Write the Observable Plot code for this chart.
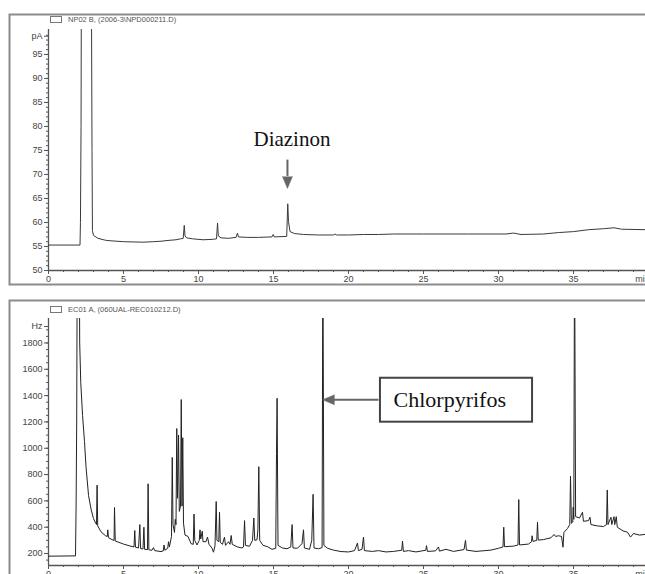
<!DOCTYPE html>
<html>
<head>
<meta charset="utf-8">
<script src="https://cdn.jsdelivr.net/npm/d3@7"></script>
<script src="https://cdn.jsdelivr.net/npm/@observablehq/plot@0.6"></script>
<style>
  html, body { margin: 0; padding: 0; background: #fff; }
  #wrap { position: relative; width: 645px; height: 574px; overflow: hidden; background: #fff; font-family: "Liberation Sans", Arial, sans-serif; }
  .panel { position: absolute; left: 0; }
  .hdr { position: absolute; font-size: 7.5px; color: #555; white-space: nowrap; }
  .icon { position: absolute; width: 10px; height: 5px; border: 1px solid #777; }
</style>
</head>
<body>
<div id="wrap">
  <div class="panel" id="top" style="top:0"></div>
  <div class="panel" id="bottom" style="top:290px"></div>
  <div class="icon" style="left:50px;top:16px"></div>
  <div class="hdr" id="hdrTop" style="left:68px;top:15px"></div>
  <div class="icon" style="left:50px;top:306px"></div>
  <div class="hdr" id="hdrBottom" style="left:68px;top:305px"></div>
</div>
<script>
// ---------- data ----------
const npdTitle = "NP02 B, (2006-3\\NPD000211.D)";
const ecdTitle = "EC01 A, (060UAL-REC010212.D)";

// NPD trace (time in min, signal in pA)
const npdTrace = [
  [0,55.3],[2.1,55.3],[2.13,60],[2.17,80],[2.2,120],[2.85,120],[2.9,75],[2.93,58.3],[3.0,57.3],
  [3.3,56.7],[3.8,56.3],[4.1,56.2],[5,56.0],[6.3,55.9],[7,56.0],[7.5,56.1],[8.1,56.3],[8.5,56.4],
  [8.8,56.6],[8.98,56.7],[9.05,59.4],[9.1,57.2],[9.2,56.8],[9.6,56.6],[10.3,56.4],[11.0,56.5],
  [11.2,56.6],[11.27,59.9],[11.32,57.2],[11.5,56.8],[12.0,56.7],[12.5,56.9],[12.6,57.8],[12.66,57.0],
  [13.2,56.9],[14.0,56.9],[14.9,57.0],[14.98,57.5],[15.05,57.0],[15.88,57.1],[15.95,63.9],[16.0,60.2],
  [16.1,58.1],[16.4,57.7],[17,57.5],[18,57.4],[19,57.4],[19.1,57.6],[19.2,57.4],[20,57.4],[21,57.5],
  [22,57.5],[23,57.6],[25,57.6],[28,57.6],[30.5,57.6],[31,57.8],[31.5,57.5],[33,57.6],[34,57.9],
  [35,58.1],[36,58.5],[37,58.7],[37.7,58.9],[38.2,58.6],[39.8,58.5]
];

// ECD trace (time in min, signal in Hz)
const ecdTrace = [
  [0,180],[1.8,182],[1.84,560],[1.88,1200],[1.92,2600],[2.05,2600],[2.08,1800],[2.15,1500],[2.27,1250],
  [2.4,1050],[2.5,860],[2.67,640],[2.85,530],[3.0,465],[3.15,430],[3.2,420],[3.24,720],[3.28,410],
  [3.5,365],[3.8,335],[3.92,330],[3.95,380],[4.0,320],[4.3,302],[4.37,300],[4.4,550],[4.45,295],
  [5.0,272],[5.5,255],[5.7,250],[5.75,375],[5.8,248],[6.0,242],[6.09,420],[6.14,238],[6.3,235],
  [6.36,400],[6.41,232],[6.6,230],[6.64,730],[6.69,228],[6.9,225],[7.0,245],[7.08,222],[7.5,215],
  [7.65,220],[7.7,265],[7.76,225],[7.95,240],[8.0,290],[8.06,250],[8.2,330],[8.25,930],[8.3,420],
  [8.4,360],[8.45,460],[8.5,420],[8.55,1150],[8.6,620],[8.67,1100],[8.72,520],[8.8,560],[8.85,1370],
  [8.9,560],[8.95,1080],[9.0,430],[9.1,340],[9.3,330],[9.5,275],[9.65,270],[9.7,500],[9.75,300],
  [9.9,265],[10.05,300],[10.1,380],[10.15,310],[10.25,370],[10.3,290],[10.5,290],[10.6,325],[10.7,270],
  [10.9,240],[11.0,210],[11.1,260],[11.18,595],[11.23,300],[11.35,290],[11.4,514],[11.45,285],
  [11.6,270],[11.73,324],[11.8,262],[12.0,290],[12.1,270],[12.18,337],[12.25,270],[12.6,250],
  [12.9,242],[13.0,250],[13.07,450],[13.13,262],[13.4,255],[13.6,300],[13.69,470],[13.75,300],
  [13.9,305],[13.96,380],[14.02,860],[14.08,300],[14.3,262],[14.6,252],[14.9,232],[15.15,240],
  [15.2,960],[15.24,1380],[15.3,262],[15.6,242],[15.9,236],[16.15,250],[16.24,420],[16.3,242],
  [16.6,240],[16.9,275],[17.0,380],[17.06,242],[17.4,232],[17.55,300],[17.64,650],[17.7,242],
  [18.0,236],[18.24,245],[18.29,2600],[18.36,262],[18.6,240],[19.0,226],[19.5,215],[20.0,212],
  [20.4,222],[20.6,280],[20.66,222],[20.9,232],[21.0,325],[21.06,222],[21.6,216],[22.0,222],
  [22.5,212],[23.0,216],[23.55,225],[23.6,295],[23.66,216],[24.0,222],[24.5,212],[25.15,225],
  [25.2,260],[25.26,216],[25.8,220],[26.0,250],[26.06,218],[26.5,232],[27.0,216],[27.7,230],
  [27.8,300],[27.86,226],[28.5,216],[29.5,226],[30.0,240],[30.3,250],[30.35,400],[30.4,252],
  [31.0,256],[31.3,265],[31.35,610],[31.4,265],[32.0,272],[32.2,290],[32.24,335],[32.3,292],
  [32.55,300],[32.6,438],[32.65,302],[33.0,306],[33.5,320],[33.7,345],[33.8,330],[34.0,335],
  [34.2,330],[34.3,248],[34.36,360],[34.6,390],[34.75,420],[34.8,787],[34.86,430],[34.95,440],
  [34.98,552],[35.02,460],[35.07,2600],[35.14,480],[35.4,470],[35.6,514],[35.66,445],[36.0,450],
  [36.1,476],[36.16,420],[36.6,410],[37.0,405],[37.2,420],[37.25,683],[37.3,420],[37.5,476],
  [37.55,420],[37.7,480],[37.75,420],[37.85,480],[37.92,400],[38.3,372],[38.6,362],[38.8,325],
  [39.0,352],[39.4,340],[39.8,346]
];

// axis ticks
const xMajorTicks = [0, 5, 10, 15, 20, 25, 30, 35];
const npdYTicks = [50, 55, 60, 65, 70, 75, 80, 85, 90, 95];
const ecdYTicks = [200, 400, 600, 800, 1000, 1200, 1400, 1600, 1800];
const npdUnitTick = [98.8];
const ecdUnitTick = [1925];
const xUnitTick = [39.6];

// annotations
const diazinonLabel = [{t: 16.23, v: 77.3, text: "Diazinon"}];
const diazinonShaft = [{t: 15.93, v1: 73.1, v2: 69.7}];
const diazinonHead = [{t: 15.93, v: 67.1}];
const chlorBox = [{t1: 22.13, t2: 32.27, v1: 1198, v2: 1532}];
const chlorLabel = [{t: 26.75, v: 1368, text: "Chlorpyrifos"}];
const chlorShaft = [{t1: 19.0, t2: 22.0, v: 1368}];
const chlorHead = [{t: 18.27, v: 1368}];

// ---------- drawing ----------
const xDomain = [0, 39.8];
const npdDomain = [50, 100.2];
const ecdDomain = [109, 1986];
const axisColor = "#555";
const tickFont = 9;

function xAxes(y0) {
  return [
    Plot.ruleY([y0], {stroke: axisColor, strokeWidth: 1.3}),
    Plot.axisX({ticks: d3.range(0, 40, 1), tickSize: 2, tickFormat: () => "", label: null, stroke: axisColor}),
    Plot.axisX({ticks: xMajorTicks, tickSize: 4, tickPadding: 1, label: null, stroke: axisColor, fill: "#444", fontSize: tickFont}),
    Plot.axisX({ticks: xUnitTick, tickSize: 0, tickPadding: 5, tickFormat: () => "min", label: null, fill: "#444", fontSize: tickFont})
  ];
}

const topChart = Plot.plot({
  width: 645, height: 290,
  marginLeft: 48, marginRight: 0, marginTop: 29, marginBottom: 20,
  style: {fontFamily: "Liberation Sans, Arial, sans-serif", background: "transparent"},
  x: {domain: xDomain},
  y: {domain: npdDomain},
  marks: [
    Plot.frame({stroke: "#8c8c8c", strokeWidth: 2, insetLeft: -39, insetTop: -15, insetBottom: -14, insetRight: -10}),
    Plot.ruleX([0], {stroke: axisColor, strokeWidth: 1.3}),
    Plot.axisY({ticks: d3.range(50, 100, 1), tickSize: 2, tickFormat: () => "", label: null, stroke: axisColor}),
    Plot.axisY({ticks: npdYTicks, tickSize: 4, tickPadding: 2, label: null, stroke: axisColor, fill: "#444", fontSize: tickFont}),
    Plot.axisY({ticks: npdUnitTick, tickSize: 4, tickPadding: 2, tickFormat: () => "pA", label: null, stroke: axisColor, fill: "#444", fontSize: tickFont}),
    ...xAxes(npdDomain[0]),
    Plot.line(npdTrace, {x: d => d[0], y: d => d[1], stroke: "#3a3a3a", strokeWidth: 1, clip: true}),
    Plot.text(diazinonLabel, {x: "t", y: "v", text: "text", fontFamily: "Liberation Serif, Times New Roman, serif", fontSize: 21, fill: "#111"}),
    Plot.link(diazinonShaft, {x1: "t", x2: "t", y1: "v1", y2: "v2", stroke: "#666", strokeWidth: 2}),
    Plot.vector(diazinonHead, {x: "t", y: "v", shape: "spike", anchor: "end", rotate: 180, length: 12, r: 5, fill: "#666", stroke: "#666", strokeWidth: 0.5})
  ]
});
document.getElementById("top").appendChild(topChart);

const bottomChart = Plot.plot({
  width: 645, height: 284,
  marginLeft: 48, marginRight: 0, marginTop: 28, marginBottom: 9,
  style: {fontFamily: "Liberation Sans, Arial, sans-serif", background: "transparent"},
  x: {domain: xDomain},
  y: {domain: ecdDomain},
  marks: [
    Plot.frame({stroke: "#8c8c8c", strokeWidth: 2, insetLeft: -39, insetTop: -18, insetBottom: -30, insetRight: -10}),
    Plot.ruleX([0], {stroke: axisColor, strokeWidth: 1.3}),
    Plot.axisY({ticks: d3.range(150, 1950, 50), tickSize: 2, tickFormat: () => "", label: null, stroke: axisColor}),
    Plot.axisY({ticks: ecdYTicks, tickSize: 4, tickPadding: 2, label: null, stroke: axisColor, fill: "#444", fontSize: tickFont, tickFormat: d => String(d)}),
    Plot.axisY({ticks: ecdUnitTick, tickSize: 4, tickPadding: 2, tickFormat: () => "Hz", label: null, stroke: axisColor, fill: "#444", fontSize: tickFont}),
    ...xAxes(ecdDomain[0]),
    Plot.line(ecdTrace, {x: d => d[0], y: d => d[1], stroke: "#222", strokeWidth: 1, clip: true}),
    Plot.rect(chlorBox, {x1: "t1", x2: "t2", y1: "v1", y2: "v2", fill: "white", stroke: "#444", strokeWidth: 2}),
    Plot.text(chlorLabel, {x: "t", y: "v", text: "text", fontFamily: "Liberation Serif, Times New Roman, serif", fontSize: 22, fill: "#111"}),
    Plot.link(chlorShaft, {x1: "t1", x2: "t2", y1: "v", y2: "v", stroke: "#666", strokeWidth: 2}),
    Plot.vector(chlorHead, {x: "t", y: "v", shape: "spike", anchor: "end", rotate: -90, length: 12, r: 5, fill: "#666", stroke: "#666", strokeWidth: 0.5})
  ]
});
document.getElementById("bottom").appendChild(bottomChart);

document.getElementById("hdrTop").textContent = npdTitle;
document.getElementById("hdrBottom").textContent = ecdTitle;
</script>
</body>
</html>
